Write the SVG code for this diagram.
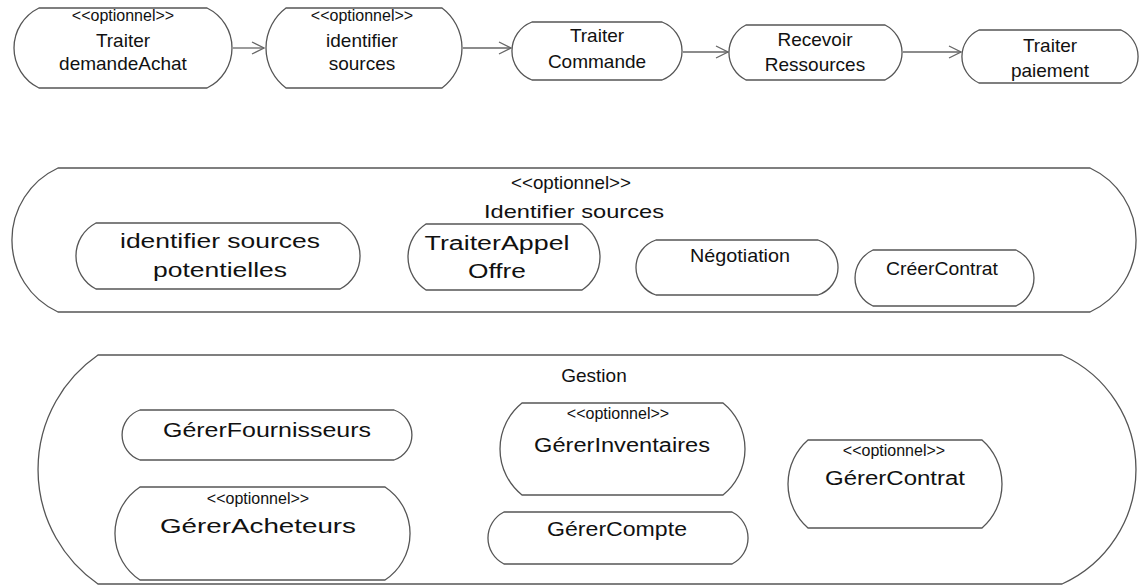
<svg xmlns="http://www.w3.org/2000/svg" width="1146" height="586" viewBox="0 0 1146 586">
<defs>
<style>
.n{fill:#fff;stroke:#555;stroke-width:1.3}
.c{fill:none;stroke:#666;stroke-width:1.3}
.t{font-family:"Liberation Sans",Arial,sans-serif;font-size:19px;text-anchor:middle;fill:#111}
.s{font-size:16px}
.b{font-size:20px}
</style>
<marker id="ah" markerUnits="userSpaceOnUse" markerWidth="14" markerHeight="14" viewBox="0 0 14 14" refX="13" refY="7" orient="auto">
<path d="M1,1 L13,7 L1,13" fill="none" stroke="#666" stroke-width="1.3"/>
</marker>
</defs>
<rect width="1146" height="586" fill="#fff"/>

<g id="connectors">
<line class="c" x1="233" y1="48" x2="264" y2="48" marker-end="url(#ah)"/>
<line class="c" x1="463" y1="48" x2="511" y2="48" marker-end="url(#ah)"/>
<line class="c" x1="683" y1="52" x2="728" y2="52" marker-end="url(#ah)"/>
<line class="c" x1="903" y1="52" x2="961" y2="52" marker-end="url(#ah)"/>
</g>

<g id="n1">
<path class="n" d="M39,8 H207 A44.5,44.5 0 0 1 207,88 H39 A44.5,44.5 0 0 1 39,8 Z"/>
<text class="t s" x="123" y="21">&lt;&lt;optionnel&gt;&gt;</text>
<text class="t" x="123" y="47">Traiter</text>
<text class="t" x="123" y="70">demandeAchat</text>
</g>
<g id="n2">
<path class="n" d="M286,8 H442 A50,50 0 0 1 442,88 H286 A50,50 0 0 1 286,8 Z"/>
<text class="t s" x="362" y="21">&lt;&lt;optionnel&gt;&gt;</text>
<text class="t" x="362" y="47">identifier</text>
<text class="t" x="362" y="70">sources</text>
</g>
<g id="n3">
<path class="n" d="M532,22 H662 A31,31 0 0 1 662,80 H532 A31,31 0 0 1 532,22 Z"/>
<text class="t" x="597" y="42">Traiter</text>
<text class="t" x="597" y="68">Commande</text>
</g>
<g id="n4">
<path class="n" d="M746,25 H885 A30.7,30.7 0 0 1 885,80 H746 A30.7,30.7 0 0 1 746,25 Z"/>
<text class="t" x="815" y="46">Recevoir</text>
<text class="t" x="815" y="71">Ressources</text>
</g>
<g id="n5">
<path class="n" d="M979,30 H1121 A29.1,29.1 0 0 1 1121,83 H979 A29.1,29.1 0 0 1 979,30 Z"/>
<text class="t" x="1050" y="52">Traiter</text>
<text class="t" x="1050" y="77">paiement</text>
</g>

<g id="identifier-sources">
<path class="n" d="M58,168 H1090 A79.3,79.3 0 0 1 1090,312 H58 A79.3,79.3 0 0 1 58,168 Z"/>
<text class="t" x="571" y="189" font-size="17" textLength="120" lengthAdjust="spacingAndGlyphs">&lt;&lt;optionnel&gt;&gt;</text>
<text class="t" x="574" y="218" font-size="21" textLength="180" lengthAdjust="spacingAndGlyphs">Identifier sources</text>
</g>
<g id="m1">
<path class="n" d="M96,223 H340 A37.2,37.2 0 0 1 340,289 H96 A37.2,37.2 0 0 1 96,223 Z"/>
<text class="t b" x="220" y="248" textLength="200" lengthAdjust="spacingAndGlyphs">identifier sources</text>
<text class="t b" x="220" y="277" textLength="134" lengthAdjust="spacingAndGlyphs">potentielles</text>
</g>
<g id="m2">
<path class="n" d="M426,224 H582 A39.25,39.25 0 0 1 582,290 H426 A39.25,39.25 0 0 1 426,224 Z"/>
<text class="t b" x="497" y="250" textLength="145" lengthAdjust="spacingAndGlyphs">TraiterAppel</text>
<text class="t b" x="497" y="278" textLength="58" lengthAdjust="spacingAndGlyphs">Offre</text>
</g>
<g id="m3">
<path class="n" d="M656,240 H818 A28.9,28.9 0 0 1 818,295 H656 A28.9,28.9 0 0 1 656,240 Z"/>
<text class="t" x="740" y="262" font-size="20" textLength="100" lengthAdjust="spacingAndGlyphs">Négotiation</text>
</g>
<g id="m4">
<path class="n" d="M873,250 H1016 A30.8,30.8 0 0 1 1016,306 H873 A30.8,30.8 0 0 1 873,250 Z"/>
<text class="t" x="942" y="275" font-size="20" textLength="112" lengthAdjust="spacingAndGlyphs">CréerContrat</text>
</g>

<g id="gestion">
<path class="n" d="M98,355 H1062 A125.6,125.6 0 0 1 1062,584 H98 A139.3,139.3 0 0 1 98,355 Z"/>
<text class="t" x="594" y="382" font-size="20">Gestion</text>
</g>
<g id="b1">
<path class="n" d="M140,410 H394 A26.4,26.4 0 0 1 394,460 H140 A26.4,26.4 0 0 1 140,410 Z"/>
<text class="t b" x="267" y="437" textLength="208" lengthAdjust="spacingAndGlyphs">GérerFournisseurs</text>
</g>
<g id="b2">
<path class="n" d="M140,487 H385 A55.7,55.7 0 0 1 385,580 H140 A55.7,55.7 0 0 1 140,487 Z"/>
<text class="t s" x="258" y="504">&lt;&lt;optionnel&gt;&gt;</text>
<text class="t b" x="258" y="533" textLength="196" lengthAdjust="spacingAndGlyphs">GérerAcheteurs</text>
</g>
<g id="b3">
<path class="n" d="M522,403 H723 A59.1,59.1 0 0 1 723,495 H522 A59.1,59.1 0 0 1 522,403 Z"/>
<text class="t s" x="618" y="419">&lt;&lt;optionnel&gt;&gt;</text>
<text class="t b" x="622" y="452" textLength="176" lengthAdjust="spacingAndGlyphs">GérerInventaires</text>
</g>
<g id="b4">
<path class="n" d="M504,512 H732 A29.1,29.1 0 0 1 732,564 H504 A29.1,29.1 0 0 1 504,512 Z"/>
<text class="t b" x="617" y="536" textLength="140" lengthAdjust="spacingAndGlyphs">GérerCompte</text>
</g>
<g id="b5">
<path class="n" d="M808,440 H982 A58.4,58.4 0 0 1 982,528 H808 A58.4,58.4 0 0 1 808,440 Z"/>
<text class="t s" x="894" y="456">&lt;&lt;optionnel&gt;&gt;</text>
<text class="t b" x="895" y="485" textLength="140" lengthAdjust="spacingAndGlyphs">GérerContrat</text>
</g>
</svg>
